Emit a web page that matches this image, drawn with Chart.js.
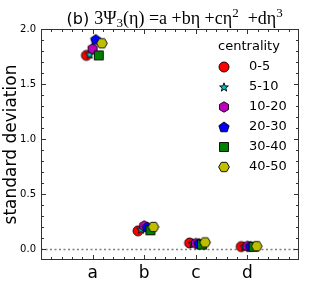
<!DOCTYPE html>
<html><head><meta charset="utf-8">
<script src="https://cdn.jsdelivr.net/npm/chart.js@4/dist/chart.umd.min.js"></script>
<style>html,body{margin:0;padding:0;background:#fff}#w{width:332px;height:289px}</style>
</head><body><div id="w"><canvas id="c" width="332" height="289"></canvas></div>
<script>
// ---- data ----
const categories = ['a', 'b', 'c', 'd'];
const centralities = ['0-5', '5-10', '10-20', '20-30', '30-40', '40-50'];
const sd_0_5   = [1.76, 0.165, 0.055, 0.022];
const sd_5_10  = [1.77, 0.18, 0.050, 0.022];
const sd_10_20 = [1.82, 0.21, 0.050, 0.025];
const sd_20_30 = [1.905, 0.20, 0.050, 0.024];
const sd_30_40 = [1.76, 0.17, 0.040, 0.020];
const sd_40_50 = [1.87, 0.20, 0.060, 0.025];
const yTickLabels = ['0.0', '0.5', '1.0', '1.5', '2.0'];
const series = [sd_0_5, sd_5_10, sd_10_20, sd_20_30, sd_30_40, sd_40_50];

// ---- styles ----
const colors = ['#ff0000', '#00bfbf', '#bf00bf', '#0000ff', '#008000', '#bfbf00'];
const shapes = ['circle', 'star', 'hexagon1', 'pentagon', 'square', 'hexagon2'];
const dodge = [-0.12, -0.06, 0, 0.06, 0.12, 0.18];

function polygon(ctx, cx, cy, r, n, rot) {
  ctx.beginPath();
  for (let i = 0; i < n; i++) {
    const a = rot + i * 2 * Math.PI / n;
    const x = cx + r * Math.cos(a), y = cy + r * Math.sin(a);
    i ? ctx.lineTo(x, y) : ctx.moveTo(x, y);
  }
  ctx.closePath();
}
function makeMarker(shape, color) {
  const S = 14, c = document.createElement('canvas');
  c.width = S; c.height = S;
  const ctx = c.getContext('2d'), m = S / 2;
  ctx.fillStyle = color; ctx.strokeStyle = '#000'; ctx.lineWidth = 0.9;
  const up = -Math.PI / 2;
  if (shape === 'circle') { ctx.beginPath(); ctx.arc(m, m, 5, 0, 2 * Math.PI); }
  else if (shape === 'square') { ctx.beginPath(); ctx.rect(m - 4.5, m - 4.5, 9, 9); }
  else if (shape === 'pentagon') polygon(ctx, m, m + 0.4, 5.4, 5, up);
  else if (shape === 'hexagon1') polygon(ctx, m, m, 5.2, 6, up);
  else if (shape === 'hexagon2') polygon(ctx, m, m, 5.4, 6, 0);
  else if (shape === 'star') {
    ctx.beginPath();
    for (let i = 0; i < 10; i++) {
      const r = i % 2 ? 1.9 : 4.6, a = up + i * Math.PI / 5;
      const x = m + r * Math.cos(a), y = m + 0.4 + r * Math.sin(a);
      i ? ctx.lineTo(x, y) : ctx.moveTo(x, y);
    }
    ctx.closePath();
  }
  ctx.fill(); ctx.stroke();
  return c;
}
const markers = shapes.map((s, i) => makeMarker(s, colors[i]));

const datasets = series.map((vals, i) => ({
  label: centralities[i],
  data: vals.map((v, k) => ({ x: k + dodge[i], y: v })),
  pointStyle: markers[i],
  pointRadius: 7,
  showLine: false,
  order: series.length - i
}));

const FRAME = '#333';
const framePlugin = {
  id: 'frame',
  beforeDatasetsDraw(chart) {
    const { ctx, chartArea: a, scales: { y } } = chart;
    ctx.save();
    ctx.strokeStyle = '#808080'; ctx.lineWidth = 1.5; ctx.setLineDash([2, 2.5]);
    const y0 = Math.round(y.getPixelForValue(0)) + 0.5;
    ctx.beginPath(); ctx.moveTo(a.left, y0); ctx.lineTo(a.right, y0); ctx.stroke();
    ctx.restore();
  },
  afterDraw(chart) {
    const { ctx, chartArea: a, scales: { x, y } } = chart;
    ctx.save();
    ctx.strokeStyle = FRAME; ctx.lineWidth = 1;
    ctx.strokeRect(Math.round(a.left) + 0.5, Math.round(a.top) + 0.5,
      Math.round(a.right - a.left) - 1, Math.round(a.bottom - a.top) - 1);
    ctx.beginPath();
    for (let k = -1; k <= 20; k++) {
      const v = k / 10;
      const p = Math.round(y.getPixelForValue(v)) + 0.5;
      if (p < a.top || p > a.bottom) continue;
      const L = (k % 5 === 0) ? 5 : 3;
      ctx.moveTo(a.left, p); ctx.lineTo(a.left + L, p);
      ctx.moveTo(a.right, p); ctx.lineTo(a.right - L, p);
    }
    for (let k = -5; k <= 20; k++) {
      const v = k / 5;
      const p = Math.round(x.getPixelForValue(v)) + 0.5;
      if (p <= a.left + 1 || p >= a.right - 1) continue;
      const L = (k % 5 === 0) ? 5 : 3;
      ctx.moveTo(p, a.bottom); ctx.lineTo(p, a.bottom - L);
      ctx.moveTo(p, a.top); ctx.lineTo(p, a.top + L);
    }
    ctx.stroke();

    // y axis title
    ctx.fillStyle = '#000';
    ctx.font = '17px "DejaVu Sans"';
    ctx.textAlign = 'center'; ctx.textBaseline = 'middle';
    ctx.translate(12, (a.top + a.bottom) / 2);
    ctx.rotate(-Math.PI / 2);
    ctx.fillText('standard deviation', 0, 0);
    ctx.setTransform(1, 0, 0, 1, 0, 0);

    // title with math-like formula
    const base = 24;
    const parts = [
      { t: '(b) ', f: '16px "DejaVu Sans"', dy: 0 },
      { t: '3Ψ', f: '18px "Liberation Serif"', dy: 0 },
      { t: '3', f: '13px "Liberation Serif"', dy: 3 },
      { t: '(η) =a +bη +cη', f: '18px "Liberation Serif"', dy: 0 },
      { t: '2', f: '13px "Liberation Serif"', dy: -7 },
      { t: '  +dη', f: '18px "Liberation Serif"', dy: 0 },
      { t: '3', f: '13px "Liberation Serif"', dy: -7 }
    ];
    parts.forEach(p => { ctx.font = p.f; p.w = ctx.measureText(p.t).width; });
    let xx = 66.5;
    ctx.textAlign = 'left'; ctx.textBaseline = 'alphabetic';
    parts.forEach(p => { ctx.font = p.f; ctx.fillText(p.t, xx, base + p.dy); xx += p.w; });

    // legend
    ctx.font = '13px "DejaVu Sans"';
    ctx.textBaseline = 'middle';
    ctx.textAlign = 'center';
    ctx.fillText('centrality', 249, 47);
    ctx.textAlign = 'left';
    centralities.forEach((lab, i) => {
      const cy = 67 + i * 20;
      ctx.drawImage(markers[i], 224 - 7, cy - 7);
      ctx.fillText(lab, 249, cy);
    });
    ctx.restore();
  }
};

new Chart(document.getElementById('c'), {
  type: 'scatter',
  data: { datasets },
  options: {
    responsive: false,
    animation: false,
    devicePixelRatio: 1,
    layout: { padding: { left: 0, top: 29, right: 33, bottom: 0 } },
    plugins: { legend: { display: false }, title: { display: false }, tooltip: { enabled: false } },
    scales: {
      x: {
        type: 'linear', min: -1, max: 4,
        grid: { display: false, drawTicks: false },
        border: { display: false },
        afterBuildTicks: s => { s.ticks = categories.map((c, i) => ({ value: i })); },
        afterFit: s => { s.height = 29; },
        ticks: {
          autoSkip: false, maxRotation: 0, padding: 3,
          color: '#000', font: { family: 'DejaVu Sans', size: 17 },
          callback: v => categories[v]
        }
      },
      y: {
        min: -0.1, max: 2.0,
        grid: { display: false, drawTicks: false },
        border: { display: false },
        afterBuildTicks: s => { s.ticks = yTickLabels.map(t => ({ value: parseFloat(t) })); },
        afterFit: s => { s.width = 41; },
        ticks: {
          padding: 5, color: '#000', font: { family: 'DejaVu Sans', size: 10 },
          callback: v => yTickLabels.find(t => parseFloat(t) === v)
        }
      }
    }
  },
  plugins: [framePlugin]
});
</script>
</body></html>
